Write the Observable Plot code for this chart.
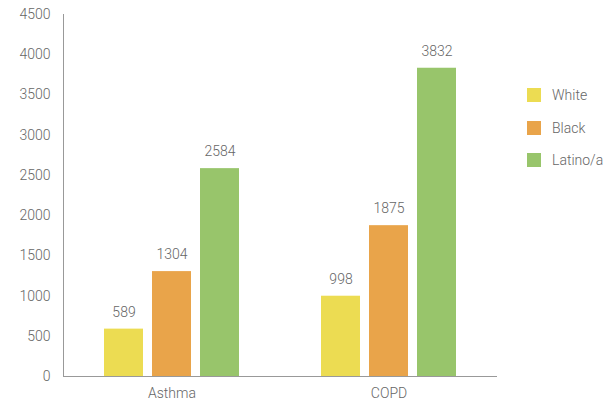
<!DOCTYPE html>
<html>
<head>
<meta charset="utf-8">
<script src="https://cdn.jsdelivr.net/npm/d3@7"></script>
<script src="https://cdn.jsdelivr.net/npm/@observablehq/plot@0.6"></script>
<style>
  body { margin: 0; background: #fff; font-family: Roboto, sans-serif; }
  #wrap { position: relative; width: 615px; height: 407px; }
  #legend { position: absolute; left: 527px; top: 88px; font-family: Roboto, sans-serif; font-weight: 300; font-size: 14px; color: #666; }
  .item { display: flex; align-items: center; height: 14px; margin-bottom: 18.5px; }
  .sw { width: 14px; height: 14px; margin-right: 11px; }
</style>
</head>
<body>
<div id="wrap"><div id="chart"></div><div id="legend"></div></div>
<script>
const conditions = ["Asthma", "COPD"];
const races = ["White", "Black", "Latino/a"];
const colors = ["#ecdc52", "#e9a44a", "#98c56b"];
const asthmaValues = [589, 1304, 2584];
const copdValues = [998, 1875, 3832];
const yTicks = [0, 500, 1000, 1500, 2000, 2500, 3000, 3500, 4000, 4500];

const seriesByCondition = [asthmaValues, copdValues];
const data = [];
conditions.forEach((c, i) => races.forEach((r, j) => data.push({condition: c, race: r, value: seriesByCondition[i][j]})));

const plot = Plot.plot({
  width: 615,
  height: 407,
  marginLeft: 63,
  marginRight: 118,
  marginTop: 14,
  marginBottom: 31,
  style: {fontFamily: "Roboto, sans-serif", fontSize: "14px", fontWeight: 300, color: "#666"},
  fx: {domain: conditions, padding: 0, label: null},
  x: {domain: races, axis: null, paddingInner: 0.19, paddingOuter: 0.85},
  y: {domain: [0, 4500], ticks: yTicks, label: null},
  color: {domain: races, range: colors},
  marks: [
    Plot.axisY({ticks: yTicks, tickFormat: d => String(d), tickSize: 0, tickPadding: 13, label: null, fill: "#666", fontSize: 14}),
    Plot.axisFx({anchor: "bottom", tickSize: 0, tickPadding: 12, label: null, fill: "#666", fontSize: 14}),
    Plot.barY(data, {fx: "condition", x: "race", y: "value", fill: "race"}),
    Plot.text(data, {fx: "condition", x: "race", y: "value", text: d => String(d.value), dy: -17, fill: "#666", fontSize: 14}),
    Plot.ruleY([0], {stroke: "#999"}),
    Plot.frame({anchor: "left", facetAnchor: "left", stroke: "#999"})
  ]
});
document.getElementById("chart").appendChild(plot);

const legend = document.getElementById("legend");
races.forEach((r, i) => {
  const it = document.createElement("div");
  it.className = "item";
  it.innerHTML = `<div class="sw" style="background:${colors[i]}"></div><span>${r}</span>`;
  legend.appendChild(it);
});
</script>
</body>
</html>
